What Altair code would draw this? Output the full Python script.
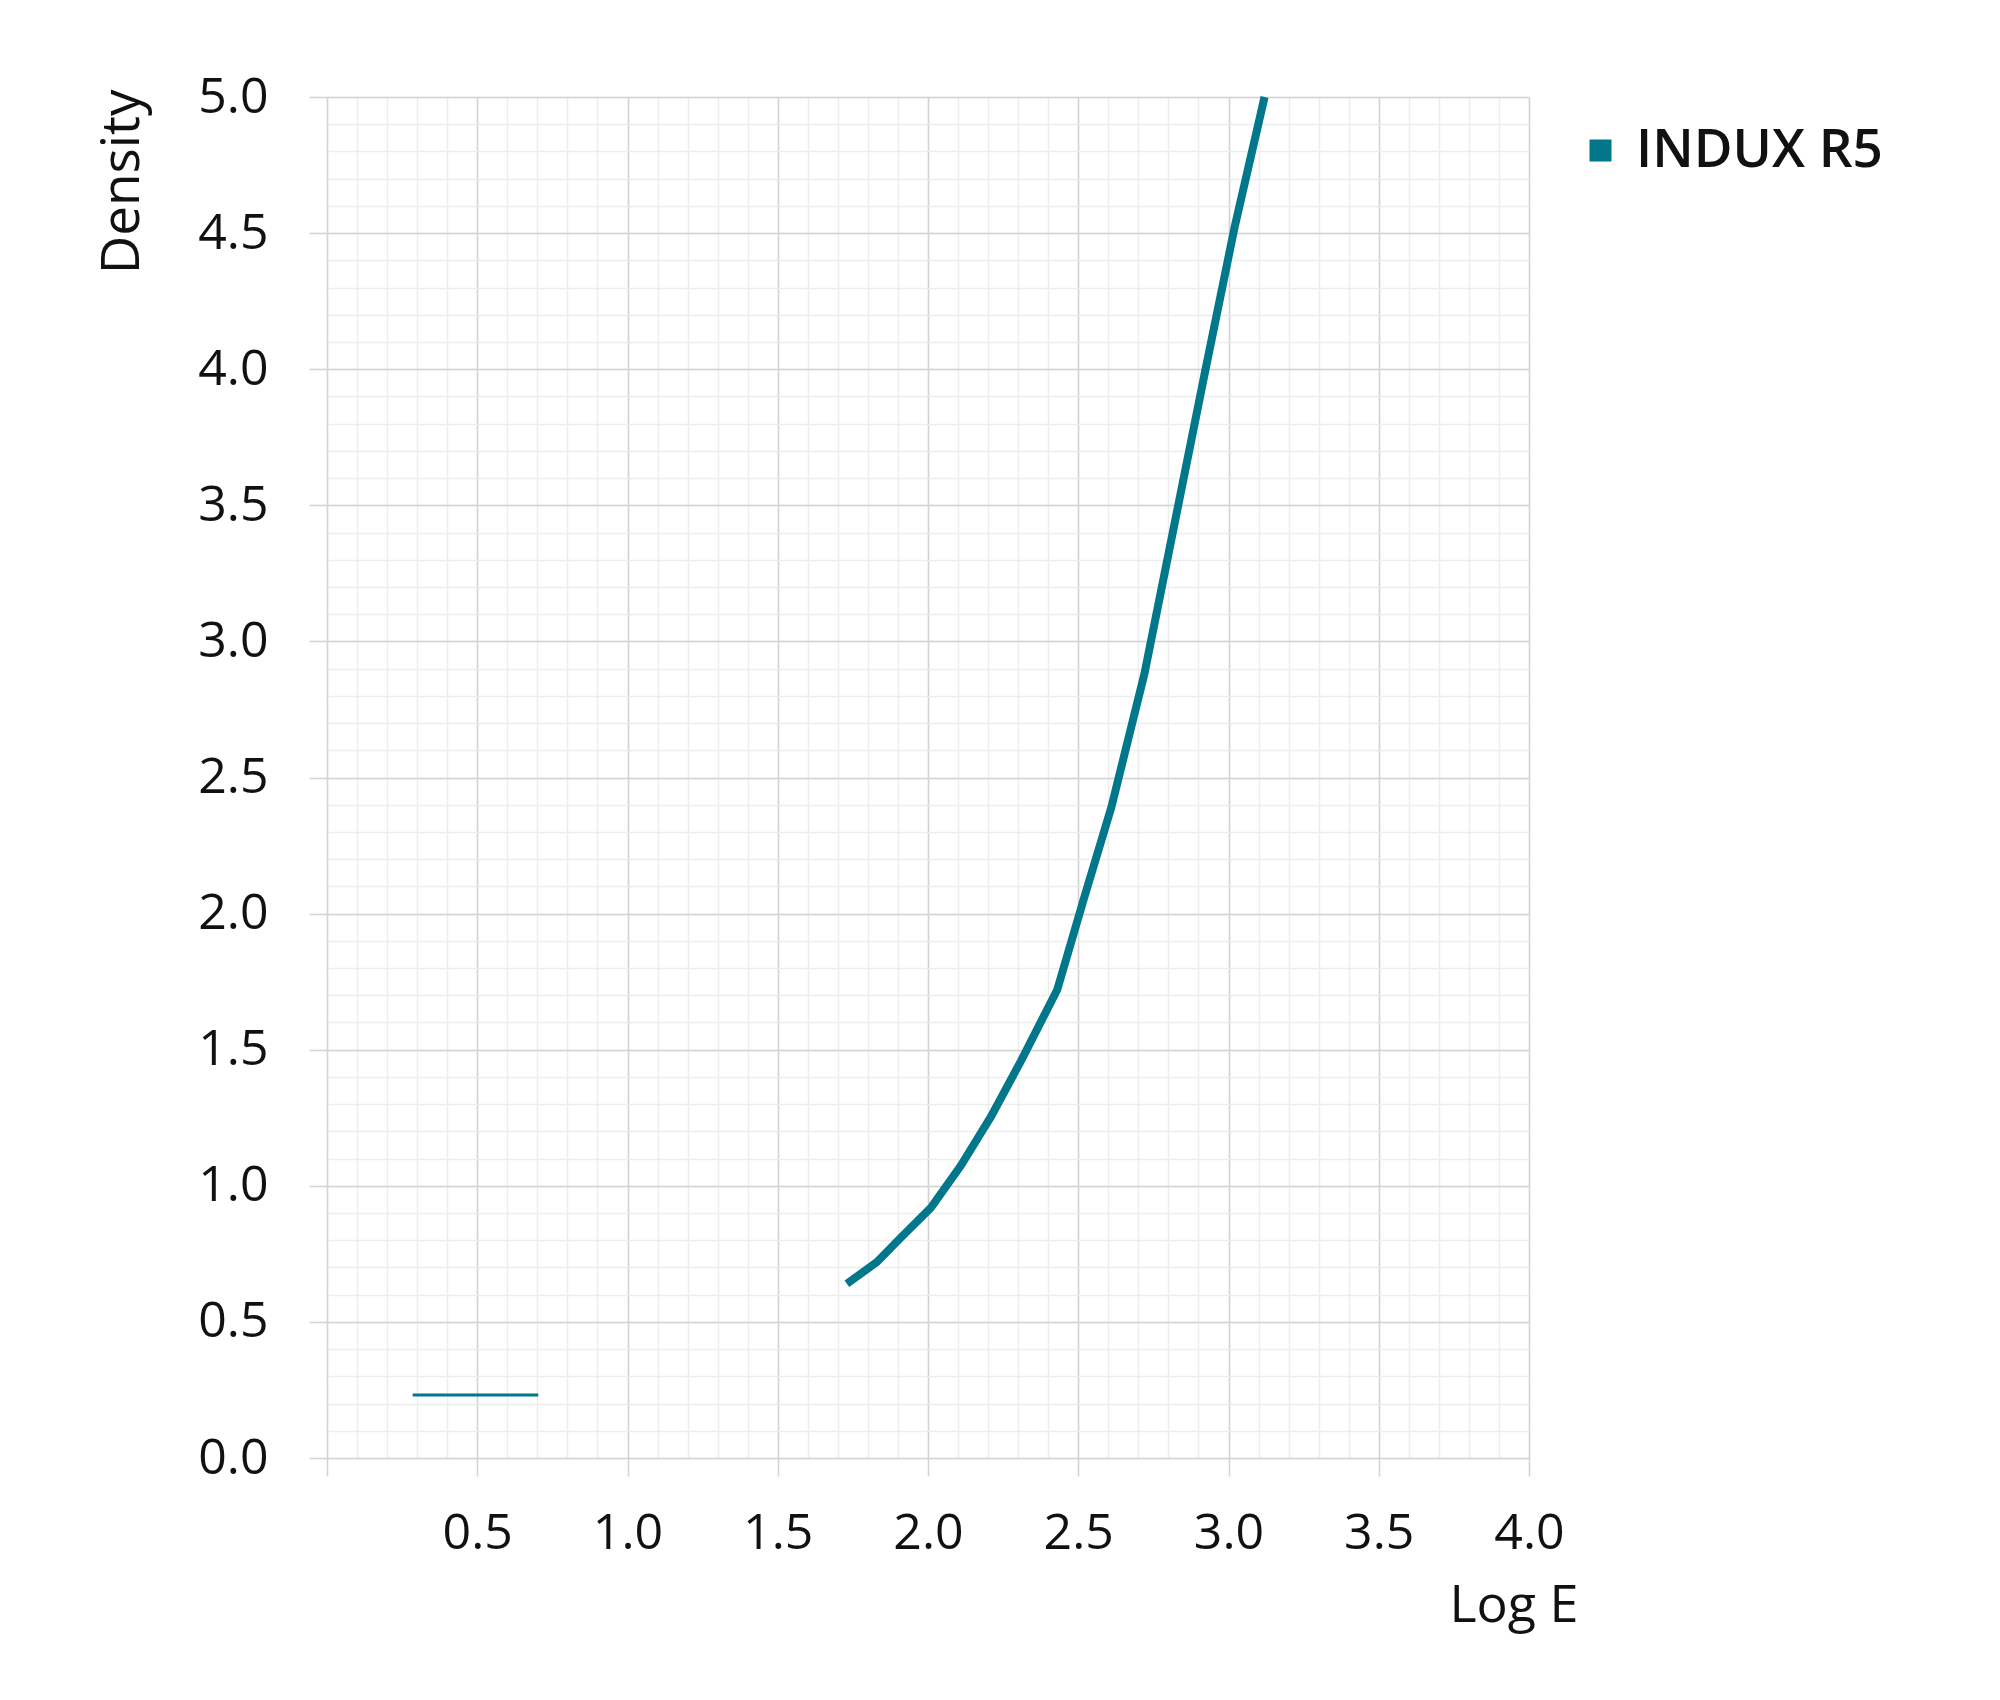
import altair as alt
import pandas as pd

# ---- data ----
film = "INDUX R5"
log_e = [1.73, 1.83, 1.91, 2.01, 2.11, 2.21, 2.31, 2.43, 2.52, 2.61, 2.72, 2.82, 2.92, 3.02, 3.12]
density = [0.64, 0.72, 0.81, 0.92, 1.075, 1.255, 1.46, 1.72, 2.06, 2.39, 2.88, 3.43, 3.98, 4.52, 5.0]
base_log_e = [0.285, 0.703]
base_density = [0.231, 0.231]

x_major = [0.0, 0.5, 1.0, 1.5, 2.0, 2.5, 3.0, 3.5, 4.0]
y_major = [0.0, 0.5, 1.0, 1.5, 2.0, 2.5, 3.0, 3.5, 4.0, 4.5, 5.0]
x_minor = [round(i * 0.1, 1) for i in range(41)]
y_minor = [round(i * 0.1, 1) for i in range(51)]

TEAL = "#00778A"
FONT = "Open Sans"
TXT = "#111111"

curve = pd.DataFrame({"logE": log_e, "D": density, "film": film})
base = pd.DataFrame({"logE": base_log_e, "D": base_density, "film": film})

xs = alt.Scale(domain=[0, 4], nice=False, zero=False)
ys = alt.Scale(domain=[0, 5], nice=False, zero=False)
cs = alt.Scale(domain=[film], range=[TEAL])

legend = alt.Legend(
    orient="none", legendX=1247, legendY=27, title=None, symbolType="square",
    symbolSize=484, symbolFillColor=TEAL, symbolStrokeWidth=0, symbolOpacity=1,
    labelFont=FONT, labelFontSize=53, labelFontWeight=600, labelColor=TXT,
    labelOffset=9, padding=0, labelLimit=600)

minor = alt.Chart(curve).mark_point(opacity=0).encode(
    x=alt.X("logE:Q", scale=xs, axis=alt.Axis(orient="top", values=x_minor, grid=True,
            gridColor="#ededed", gridWidth=1.5, labels=False, ticks=False, domain=False, title=None)),
    y=alt.Y("D:Q", scale=ys, axis=alt.Axis(orient="right", values=y_minor, grid=True,
            gridColor="#ededed", gridWidth=1.5, labels=False, ticks=False, domain=False, title=None)),
)

main = alt.Chart(curve).mark_line(strokeWidth=8).encode(
    x=alt.X("logE:Q", scale=xs, axis=alt.Axis(
        orient="bottom", values=x_major, grid=True, gridColor="#d2d2d2", gridWidth=1.5,
        domain=False, ticks=True, tickSize=18, tickColor="#d2d2d2", tickWidth=1.5,
        labelExpr="datum.value == 0 ? '' : format(datum.value, '.1f')",
        labelFlush=False, labelOverlap=False, labelBound=False,
        labelFont=FONT, labelFontSize=50, labelColor=TXT, labelPadding=32,
        title="Log E", titleFont=FONT, titleFontSize=52, titleFontWeight="normal", titleColor=TXT,
        titleAlign="right", titleBaseline="alphabetic", titleX=1251, titleY=163)),
    y=alt.Y("D:Q", scale=ys, axis=alt.Axis(
        orient="left", values=y_major, grid=True, gridColor="#d2d2d2", gridWidth=1.5,
        domain=False, ticks=True, tickSize=18, tickColor="#d2d2d2", tickWidth=1.5,
        labelFlush=False, labelOverlap=False, labelBound=False,
        format=".1f", labelFont=FONT, labelFontSize=50, labelColor=TXT, labelPadding=41,
        labelBaseline="middle",
        title="Density", titleFont=FONT, titleFontSize=53, titleFontWeight=500, titleColor=TXT,
        titleAngle=270, titleAlign="right", titleBaseline="alphabetic", titleX=-189, titleY=-8)),
    color=alt.Color("film:N", scale=cs, legend=legend),
)

baseline = alt.Chart(base).mark_line(strokeWidth=3).encode(
    x=alt.X("logE:Q", scale=xs, axis=None),
    y=alt.Y("D:Q", scale=ys, axis=None),
    color=alt.Color("film:N", scale=cs, legend=legend),
)

chart = alt.layer(minor, baseline, main).resolve_axis(x="independent", y="independent").properties(
    width=1202, height=1361,
    autosize=alt.AutoSizeParams(type="none"),
    padding={"left": 319, "top": 89, "right": 420, "bottom": 200},
).configure_view(stroke=None)

chart.save("out.html", embed_options={"renderer": "svg", "actions": False})
